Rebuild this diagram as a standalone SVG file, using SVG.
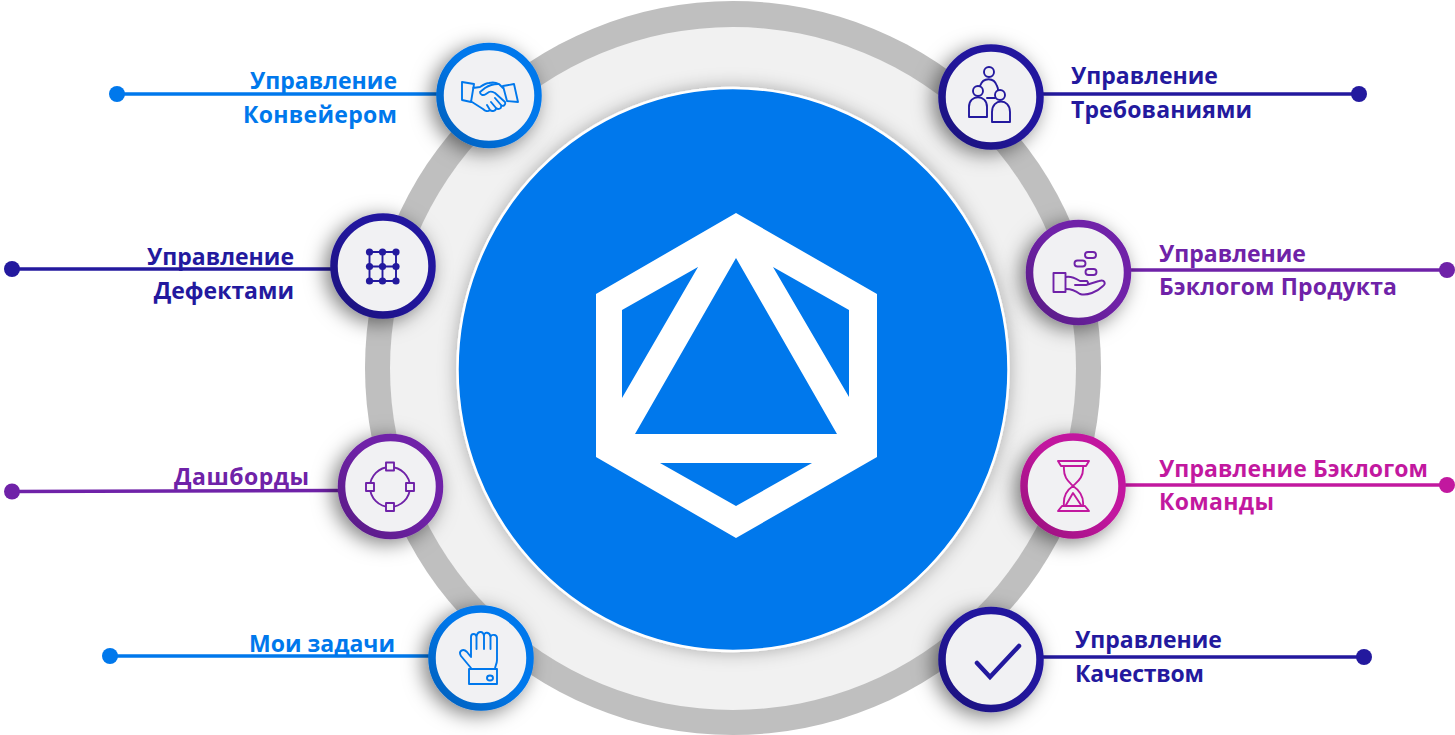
<svg xmlns="http://www.w3.org/2000/svg" width="1455" height="735" viewBox="0 0 1455 735">
<style>
text{font-family:"Open Sans","Liberation Sans",sans-serif;font-weight:700;font-size:23px}
.e{text-anchor:end}
.ring{fill:#f1f1f3;stroke-width:7.5}
.shade{fill:none;stroke:url(#rs);stroke-width:7.5}
.ico{fill:none;stroke-width:1.9;stroke-linejoin:round;stroke-linecap:round}
.ln{stroke-width:3.6;fill:none}
.blue{color:#0078ec}.navy{color:#23199e}.purple{color:#6f22a8}.mag{color:#c2189f}
.blue text,.navy text,.purple text,.mag text{fill:currentColor}
.ring,.ico,.ln{stroke:currentColor}
.dot{fill:currentColor}
.node{filter:url(#sh)}
</style>
<defs>
<filter id="sh" x="-50%" y="-50%" width="200%" height="200%"><feDropShadow dx="-5" dy="4" stdDeviation="10" flood-color="#000" flood-opacity=".5"/></filter>
<filter id="glow" x="-10%" y="-10%" width="120%" height="120%"><feDropShadow dx="0" dy="0" stdDeviation="9" flood-color="#000" flood-opacity=".3"/></filter>
<linearGradient id="rs" x1="0" y1="1" x2="1" y2="0"><stop offset="0" stop-color="#000" stop-opacity=".22"/><stop offset=".55" stop-color="#000" stop-opacity="0"/></linearGradient>
</defs>
<g id="disc">
<ellipse cx="733" cy="368" rx="368" ry="367" fill="#bfbfbf"/>
<ellipse cx="733" cy="368.500" rx="343" ry="341.500" fill="#f1f1f1"/>
<ellipse cx="733" cy="369.500" rx="275.500" ry="281.500" fill="#0078ec" stroke="#fff" stroke-width="2.500" filter="url(#glow)"/>
<path fill="#fff" fill-rule="evenodd" d="M736 213L877 294V457L736 538L596 457V294ZM736 258L635 434H837ZM698 267L622 310V398ZM773 267L849 310V397ZM660 463H812L736 506Z"/>
</g>
<g id="connectors">
<g class="blue"><path class="ln" d="M117 94H440"/><circle class="dot" cx="117" cy="94" r="8"/></g>
<g class="navy"><path class="ln" d="M1040 94H1359"/><circle class="dot" cx="1359" cy="94" r="8"/></g>
<g class="navy"><path class="ln" d="M12 269H332"/><circle class="dot" cx="12" cy="269" r="8"/></g>
<g class="purple"><path class="ln" d="M1130 270H1447"/><circle class="dot" cx="1447" cy="270" r="8"/></g>
<g class="purple"><path class="ln" d="M12 491.500L340 490.500"/><circle class="dot" cx="12" cy="491.500" r="8"/></g>
<g class="mag"><path class="ln" d="M1125 485H1447"/><circle class="dot" cx="1447" cy="485" r="8"/></g>
<g class="blue"><path class="ln" d="M110 656H432"/><circle class="dot" cx="110" cy="656" r="8"/></g>
<g class="navy"><path class="ln" d="M1042 657H1364"/><circle class="dot" cx="1364" cy="657" r="8"/></g>
</g>
<g id="node-konveyer" class="blue">
<g class="node"><circle class="ring" cx="489" cy="95.500" r="49"/></g><circle class="shade" cx="489" cy="95.500" r="49"/>
<path class="ico" d="M462 82L474 84L471 102L462 100ZM503 86L514 84L518 102L507 101ZM473 88L480 87C483 85 486 83 489 83C493 82 497 83 499 84L503 88M498 84C493 84 488 86 485 88L480 92C480 95 483 96 486 94L489 92C491 91 493 92 495 93L505 102C506 105 503 107 501 105C502 109 498 110 496 108C496 111 492 112 490 110C488 112 485 111 483 109L472 102M495 98L501 105M491 102L496 108M487 105L490 110"/>
<text class="e" x="397" y="89">Управление</text>
<text class="e" x="397" y="123" textLength="154">Конвейером</text>
</g>
<g id="node-trebovaniya" class="navy">
<g class="node"><circle class="ring" cx="991" cy="97" r="49"/></g><circle class="shade" cx="991" cy="97" r="49"/>
<path class="ico" d="M980 86C983 77 994 77 997 86C998 88 998 89 998 90M987 98H995"/>
<circle class="ico" cx="989" cy="72" r="5"/><circle class="ico" cx="978" cy="91" r="5"/><circle class="ico" cx="1000" cy="95" r="5"/>
<path class="ico" d="M969 117V107C969 94 987 94 987 107V117ZM992 122V112C992 98 1010 98 1010 112V122Z"/>
<text x="1071" y="84">Управление</text>
<text x="1071" y="118" textLength="181">Требованиями</text>
</g>
<g id="node-defekty" class="navy">
<g class="node"><circle class="ring" cx="383" cy="266" r="49"/></g><circle class="shade" cx="383" cy="266" r="49"/>
<path class="ico" d="M369.500 252H396M369.500 266.500H396M369.500 281H396M369.500 252V281M382.500 252V281M396 252V281"/>
<g class="dot"><circle cx="369.500" cy="252" r="3.600"/><circle cx="382.500" cy="252" r="3.600"/><circle cx="396" cy="252" r="3.600"/><circle cx="369.500" cy="266.500" r="3.600"/><circle cx="382.500" cy="266.500" r="3.600"/><circle cx="396" cy="266.500" r="3.600"/><circle cx="369.500" cy="281" r="3.600"/><circle cx="382.500" cy="281" r="3.600"/><circle cx="396" cy="281" r="3.600"/></g>
<text class="e" x="294" y="265">Управление</text>
<text class="e" x="294" y="299">Дефектами</text>
</g>
<g id="node-backlog-product" class="purple">
<g class="node"><circle class="ring" cx="1078.500" cy="272.500" r="49"/></g><circle class="shade" cx="1078.500" cy="272.500" r="49"/>
<rect class="ico" x="1053.500" y="273" width="12" height="19"/>
<path class="ico" d="M1066 277C1071 276 1075 278 1080 281H1087C1089 283 1088 285 1086 285H1075M1086 285L1099 281C1105 279 1106 284 1103 286C1097 292 1087 296 1080 294C1076 291 1072 289 1066 289"/>
<rect class="ico" x="1085" y="252" width="11" height="6" rx="3"/><rect class="ico" x="1074.500" y="260.500" width="11" height="6" rx="3"/><rect class="ico" x="1085.500" y="269" width="11" height="6" rx="3"/>
<text x="1159" y="262">Управление</text>
<text x="1159" y="295" textLength="238">Бэклогом Продукта</text>
</g>
<g id="node-dashboards" class="purple">
<g class="node"><circle class="ring" cx="390.500" cy="486.500" r="49"/></g><circle class="shade" cx="390.500" cy="486.500" r="49"/>
<circle class="ico" cx="390" cy="487" r="20"/>
<g class="ico" style="fill:#f1f1f3"><rect x="386" y="462.500" width="8" height="8"/><rect x="386" y="503" width="8" height="8"/><rect x="366" y="483" width="8" height="8"/><rect x="406" y="483" width="8" height="8"/></g>
<text class="e" x="309" y="485" textLength="135">Дашборды</text>
</g>
<g id="node-backlog-team" class="mag">
<g class="node"><circle class="ring" cx="1073" cy="486" r="49"/></g><circle class="shade" cx="1073" cy="486" r="49"/>
<path class="ico" d="M1058 461H1089L1086 466H1061ZM1064 466C1063 478 1069 482 1073 486C1077 482 1084 478 1083 466M1073 486C1067 490 1063 497 1064 506M1073 486C1079 490 1084 497 1083 506M1066 505L1073 493L1081 505M1062 506H1085L1089 511H1058Z"/>
<text x="1159" y="477" textLength="269">Управление Бэклогом</text>
<text x="1159" y="510" textLength="115">Команды</text>
</g>
<g id="node-tasks" class="blue">
<g class="node"><circle class="ring" cx="481" cy="658" r="49"/></g><circle class="shade" cx="481" cy="658" r="49"/>
<path class="ico" d="M471 668L461 656C458 651 463 648 467 652L471 657V637C471 633 476 633 476.500 637C477 631 483 630 484 636C484 631 490 632 490.500 637C491 634 497 634 497 638V660C497 664 495 666 495 669M476.500 637V649M484 636V649M490.500 637V649"/>
<rect class="ico" x="469" y="669" width="28" height="15"/><ellipse class="ico" cx="490" cy="678" rx="3" ry="2.500"/>
<text x="395" y="652" class="e">Мои задачи</text>
</g>
<g id="node-quality" class="navy">
<g class="node"><circle class="ring" cx="991" cy="659.500" r="49"/></g><circle class="shade" cx="991" cy="659.500" r="49"/>
<path d="M977 663L990 677L1019 646" fill="none" stroke="currentColor" stroke-width="4.500" stroke-linecap="round" stroke-linejoin="miter"/>
<text x="1075" y="648">Управление</text>
<text x="1075" y="682" textLength="129">Качеством</text>
</g>
</svg>
